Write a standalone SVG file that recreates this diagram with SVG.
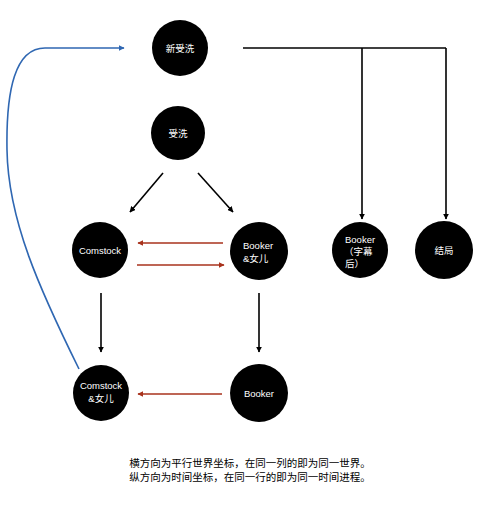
<svg xmlns="http://www.w3.org/2000/svg" width="500" height="517" viewBox="0 0 500 517">
<style>
.n{fill:#000}
.t{fill:#fff;font-family:"Liberation Sans","Noto Sans CJK SC",sans-serif;font-size:9.5px}
.c{text-anchor:middle}
.k{stroke:#000;stroke-width:1.6;fill:none}
.r{stroke:#a8321c;stroke-width:1.6;fill:none}
.b{stroke:#2f67b2;stroke-width:1.6;fill:none}
.cap{fill:#000;font-family:"Liberation Sans","Noto Sans CJK SC",sans-serif;font-size:10.5px;text-anchor:middle}
</style>
<defs>
<marker id="ak" viewBox="0 0 10 10" refX="9" refY="5" markerWidth="6" markerHeight="6" markerUnits="userSpaceOnUse" orient="auto"><path d="M0,0 L10,5 L0,10 Z" fill="#000"/></marker>
<marker id="ar" viewBox="0 0 10 10" refX="9" refY="5" markerWidth="6" markerHeight="6" markerUnits="userSpaceOnUse" orient="auto"><path d="M0,0 L10,5 L0,10 Z" fill="#a8321c"/></marker>
<marker id="ab" viewBox="0 0 10 10" refX="9" refY="5" markerWidth="6" markerHeight="6" markerUnits="userSpaceOnUse" orient="auto"><path d="M0,0 L10,5 L0,10 Z" fill="#2f67b2"/></marker>
</defs>
<rect width="500" height="517" fill="#fff"/>
<g id="connectors">
<path class="k" d="M243,48 H446"/>
<path class="k" d="M362,48 V219" marker-end="url(#ak)"/>
<path class="k" d="M446,48 V219" marker-end="url(#ak)"/>
<path class="k" d="M163,173 L130,212" marker-end="url(#ak)"/>
<path class="k" d="M198,173 L233,212" marker-end="url(#ak)"/>
<path class="r" d="M223,243 H138" marker-end="url(#ar)"/>
<path class="r" d="M137,265 H224" marker-end="url(#ar)"/>
<path class="k" d="M101,293 V352" marker-end="url(#ak)"/>
<path class="k" d="M259,293 V352" marker-end="url(#ak)"/>
<path class="r" d="M222,394 H138" marker-end="url(#ar)"/>
<path class="b" d="M79,369 C40,290 8,220 7,150 C6,90 15,48 45,48 L124,48" marker-end="url(#ab)"/>
</g>
<g id="n-xinshouxi"><circle class="n" cx="180" cy="48" r="28"/><text class="t c" x="180" y="52">新受洗</text></g>
<g id="n-shouxi"><circle class="n" cx="178" cy="133" r="27"/><text class="t c" x="178" y="137">受洗</text></g>
<g id="n-comstock"><circle class="n" cx="100" cy="250" r="28"/><text class="t c" x="100" y="254">Comstock</text></g>
<g id="n-booker-daughter"><circle class="n" cx="259" cy="251" r="29"/><text class="t" x="243" y="249">Booker</text><text class="t" x="243" y="262">&amp;女儿</text></g>
<g id="n-booker-credits"><circle class="n" cx="360" cy="250" r="28"/><text class="t" x="345" y="243">Booker</text><text class="t" x="344" y="255">（字幕</text><text class="t" x="345" y="267">后）</text></g>
<g id="n-ending"><circle class="n" cx="444" cy="250" r="29"/><text class="t c" x="444" y="254">结局</text></g>
<g id="n-comstock-daughter"><circle class="n" cx="101" cy="393" r="28"/><text class="t c" x="101" y="389">Comstock</text><text class="t c" x="101" y="402">&amp;女儿</text></g>
<g id="n-booker"><circle class="n" cx="259" cy="393" r="29"/><text class="t c" x="259" y="397">Booker</text></g>
<text class="cap" x="250" y="467">横方向为平行世界坐标，在同一列的即为同一世界。</text>
<text class="cap" x="250" y="481">纵方向为时间坐标，在同一行的即为同一时间进程。</text>
</svg>
